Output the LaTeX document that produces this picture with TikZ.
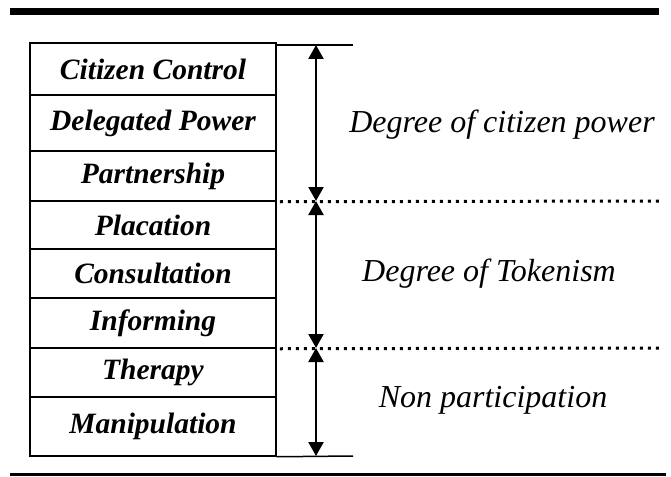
\documentclass[tikz,border=0pt]{standalone}
\usepackage{fontspec}
\setmainfont{Liberation Serif}
\usetikzlibrary{arrows.meta}
\begin{document}
\begin{tikzpicture}[x=1pt,y=-1pt,
  rung/.style={draw,line width=1.5pt,minimum width=246pt,inner sep=0pt,
    font=\fontsize{29.5}{32}\selectfont\bfseries\itshape},
  rule/.style={line width=1.5pt},
  spanarrow/.style={line width=2.2pt,{Triangle[length=14pt,width=15pt]}-{Triangle[length=14pt,width=15pt]}},
  sep/.style={line width=3pt,dash pattern=on 3pt off 5pt},
  zone/.style={font=\fontsize{32}{36}\selectfont\itshape}]
\useasboundingbox (0,0) rectangle (671,476);
% top and bottom rules
\fill (10,8) rectangle (659,15);
\fill (10,472.5) rectangle (666,476);
% ladder
\node[rung,minimum height=52pt] (r1) at (153,69) {Citizen Control};
\node[rung,minimum height=56pt] (r2) at (153,123) {Delegated Power};
\node[rung,minimum height=50pt] (r3) at (153,176) {Partnership};
\node[rung,minimum height=48pt] (r4) at (153,225) {Placation};
\node[rung,minimum height=49pt] (r5) at (153,273.5) {Consultation};
\node[rung,minimum height=50pt] (r6) at (153,323) {Informing};
\node[rung,minimum height=49pt] (r7) at (153,372.5) {Therapy};
\node[rung,minimum height=59pt] (r8) at (153,426.5) {Manipulation};
% extension lines
\coordinate (t1) at (276,45);
\coordinate (t2) at (353,45);
\coordinate (b2) at (353,456);
\draw[rule] (t1) -- (t2);
\draw[rule] (r8.south east) -- (b2);
% dotted separators
\coordinate (d1e) at (662,201);
\coordinate (d2e) at (662,348);
\draw[sep] (r3.south east) ++(3,0) -- (d1e);
\draw[sep] (r6.south east) ++(3,0) -- (d2e);
% arrows
\coordinate (a0) at (316,45);
\coordinate (a1) at (316,201);
\coordinate (a2) at (316,348);
\coordinate (a3) at (316,456);
\draw[spanarrow] (a0) -- (a1);
\draw[spanarrow] (a1) -- (a2);
\draw[spanarrow] (a2) -- (a3);
% zone labels
\node[zone] (z1) at (502,125) {Degree of citizen power};
\node[zone] (z2) at (489,274) {Degree of Tokenism};
\node[zone] (z3) at (493,400) {Non participation};
\end{tikzpicture}
\end{document}
